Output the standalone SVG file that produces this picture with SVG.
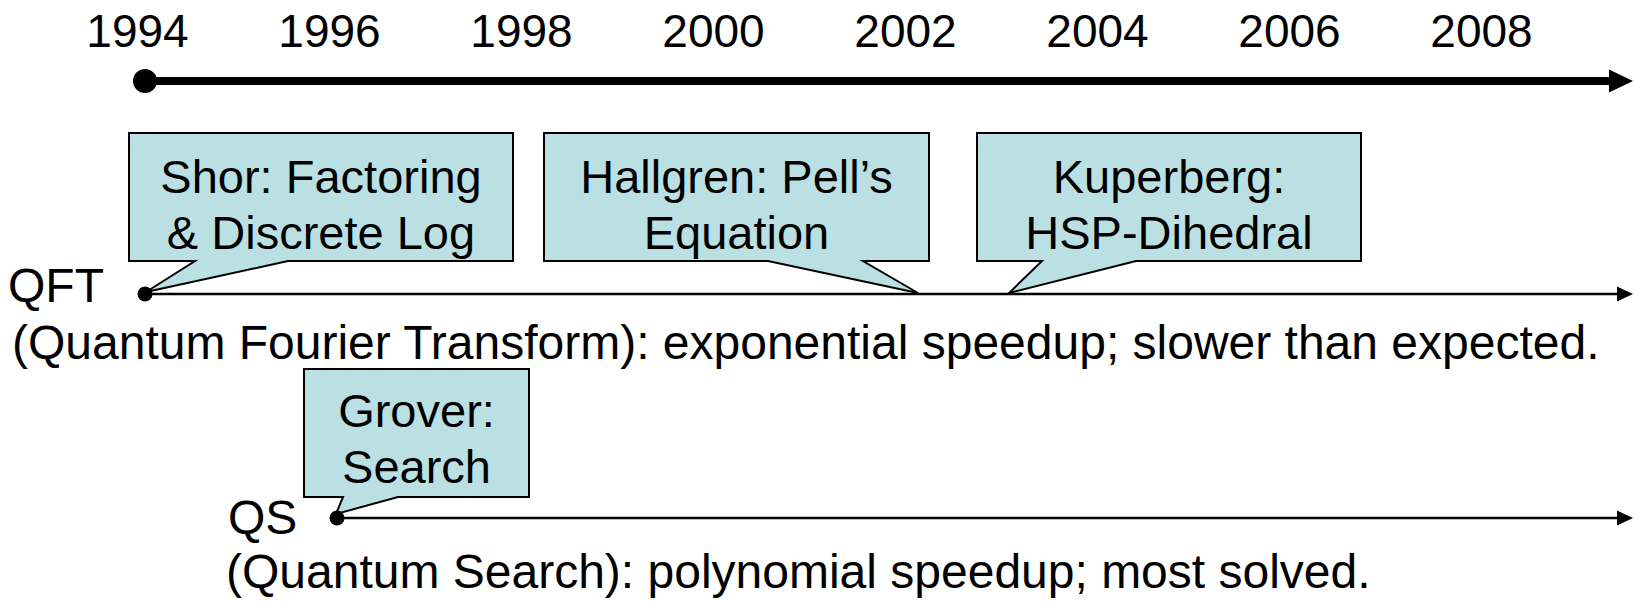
<svg xmlns="http://www.w3.org/2000/svg" width="1635" height="603" viewBox="0 0 1635 603">
<style>
text { font-family: "Liberation Sans", Arial, sans-serif; fill: #000; }
.yr { font-size: 46px; text-anchor: middle; }
.lbl { font-size: 48px; }
.bt { font-size: 47px; text-anchor: middle; }
.callout { fill: #BBE0E3; stroke: #000; stroke-width: 2; stroke-linejoin: miter; }
.thin { stroke: #000; stroke-width: 2.5; fill: none; }
.thick { stroke: #000; stroke-width: 8; fill: none; }
</style>
<rect width="1635" height="603" fill="#fff"/>
<g id="years">
<text class="yr" x="137.5" y="47">1994</text>
<text class="yr" x="329.5" y="47">1996</text>
<text class="yr" x="521.5" y="47">1998</text>
<text class="yr" x="713.5" y="47">2000</text>
<text class="yr" x="905.5" y="47">2002</text>
<text class="yr" x="1097.5" y="47">2004</text>
<text class="yr" x="1289.5" y="47">2006</text>
<text class="yr" x="1481.5" y="47">2008</text>
</g>
<g id="connectors">
<line class="thick" x1="145" y1="81" x2="1612" y2="81"/>
<polygon points="1609,69.5 1633,81 1609,92.5" fill="#000"/>
<circle cx="145" cy="81" r="12" fill="#000"/>
<line class="thin" x1="145" y1="294" x2="1619" y2="294"/>
<polygon points="1617,286.5 1633,294 1617,301.5" fill="#000"/>
<line class="thin" x1="337" y1="518" x2="1619" y2="518"/>
<polygon points="1617,510.5 1633,518 1617,525.5" fill="#000"/>
</g>
<g id="qft-label">
<text class="lbl" x="8" y="302">QFT</text>
<text class="lbl" x="12" y="359">(Quantum Fourier Transform): exponential speedup; slower than expected.</text>
</g>
<g id="qs-label">
<text class="lbl" x="228" y="534">QS</text>
<text class="lbl" x="226" y="588">(Quantum Search): polynomial speedup; most solved.</text>
</g>
<g id="shor">
<path class="callout" d="M129,133 H513 V261 H288 L146,292 L195,261 H129 Z"/>
<text class="bt" x="321" y="193">Shor: Factoring</text>
<text class="bt" x="321" y="249">&amp; Discrete Log</text>
</g>
<g id="hallgren">
<path class="callout" d="M544,133 H929 V261 H863 L918,293 L768,261 H544 Z"/>
<text class="bt" x="736.5" y="193">Hallgren: Pell’s</text>
<text class="bt" x="736.5" y="249">Equation</text>
</g>
<g id="kuperberg">
<path class="callout" d="M977,133 H1361 V261 H1136 L1009,293 L1042,261 H977 Z"/>
<text class="bt" x="1169" y="193">Kuperberg:</text>
<text class="bt" x="1169" y="249">HSP-Dihedral</text>
</g>
<g id="grover">
<path class="callout" d="M304,369 H529 V497 H398 L336,514 L343,497 H304 Z"/>
<text class="bt" x="416.5" y="427">Grover:</text>
<text class="bt" x="416.5" y="483">Search</text>
</g>
<g id="dots">
<circle cx="145" cy="294" r="7.5" fill="#000"/>
<circle cx="337" cy="518" r="7.5" fill="#000"/>
</g>
</svg>
